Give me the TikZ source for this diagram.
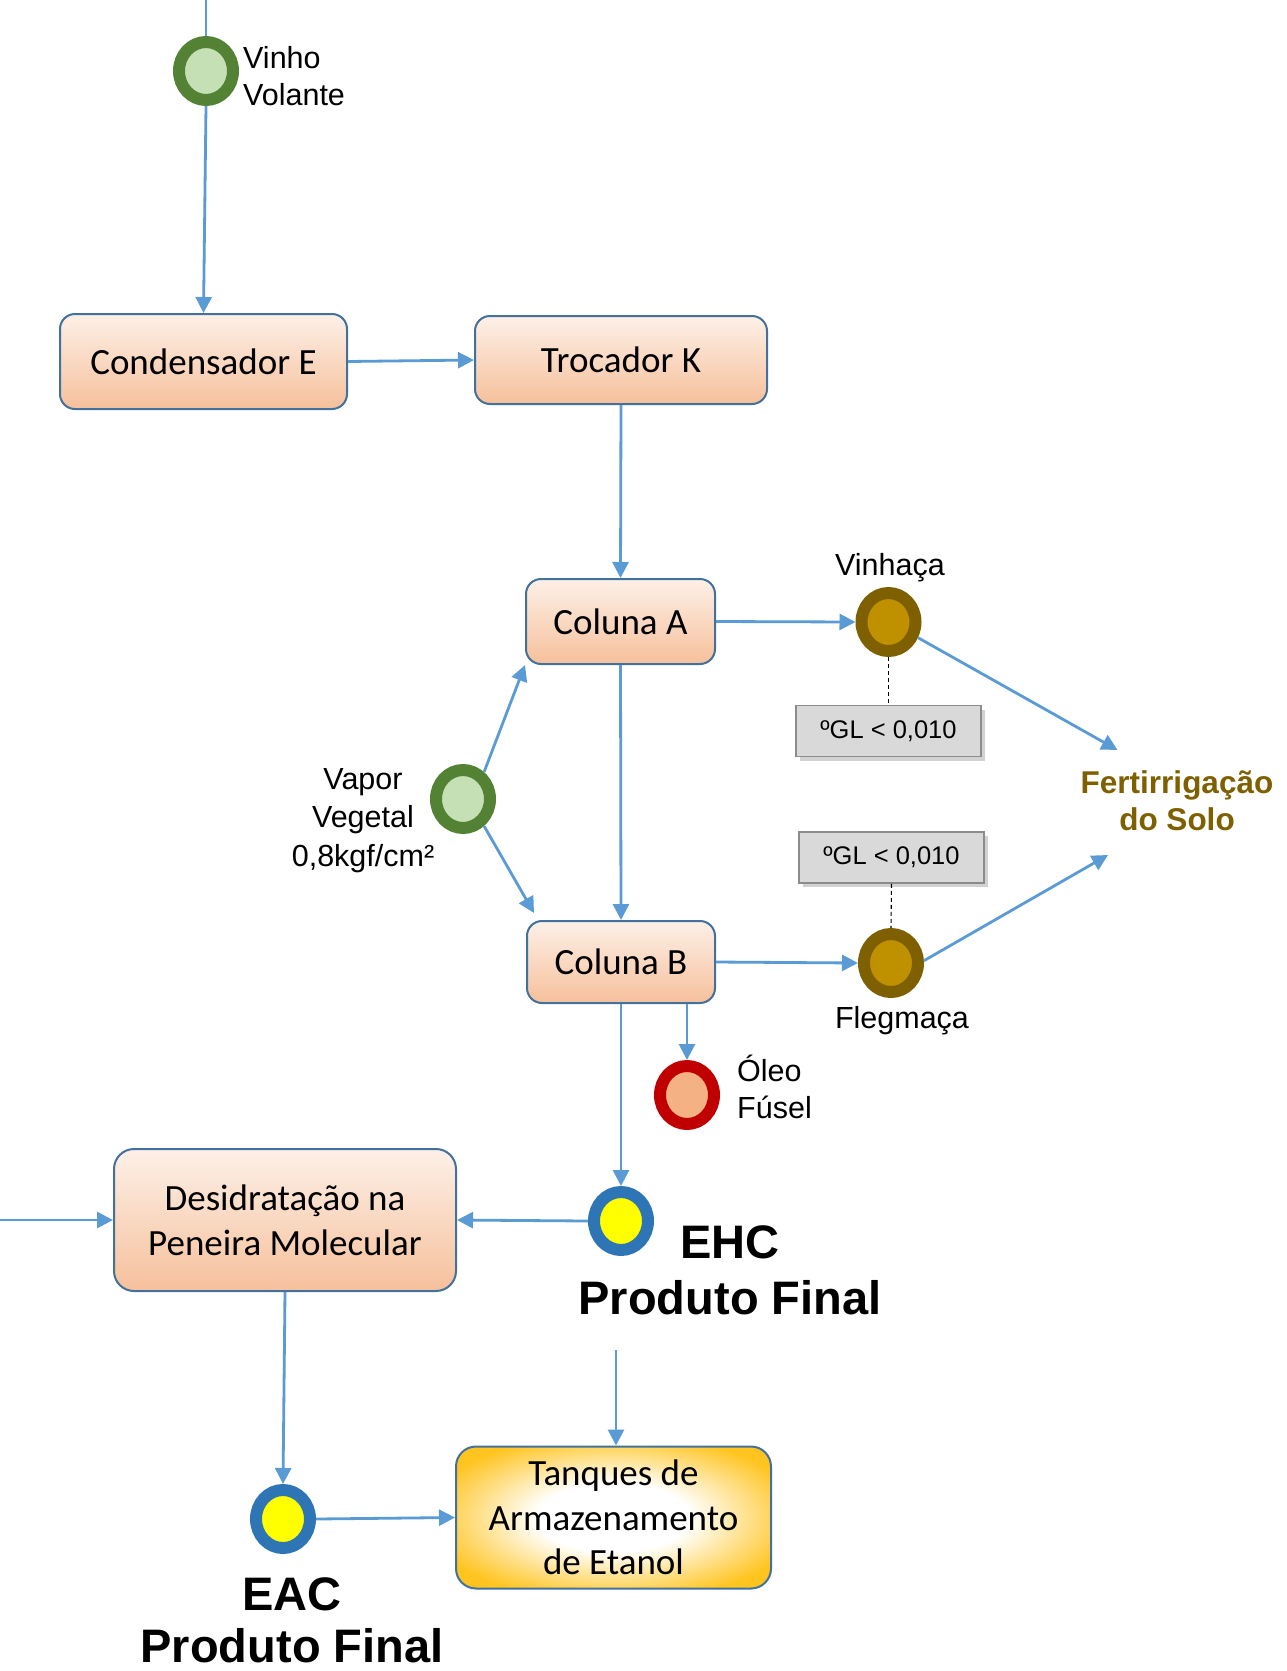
\documentclass[tikz,border=0pt]{standalone}
\usepackage{fontspec}
\setmainfont{Liberation Sans}
\newfontfamily\bodyfont{Carlito}
\usetikzlibrary{shapes.geometric,arrows.meta,shadows,calc}

\definecolor{flowblue}{HTML}{5B9BD5}
\definecolor{boxedge}{HTML}{41719C}
\definecolor{peachtop}{HTML}{FDF0E8}
\definecolor{peachbot}{HTML}{F6C09B}
\definecolor{tankgold}{HTML}{FFC41F}
\definecolor{greenring}{HTML}{548235}
\definecolor{greencore}{HTML}{C5E0B4}
\definecolor{brownring}{HTML}{7F6000}
\definecolor{browncore}{HTML}{BF9000}
\definecolor{redring}{HTML}{C00000}
\definecolor{redcore}{HTML}{F4B183}
\definecolor{bluering}{HTML}{2E75B6}
\definecolor{bluecore}{HTML}{FFFF00}
\definecolor{notefill}{HTML}{D9D9D9}
\definecolor{noteedge}{HTML}{8C8C8C}

% white centre fading to gold towards the edges of the tank box
\pgfdeclareradialshading{tankglow}{\pgfpoint{0bp}{0bp}}{color(0bp)=(white); color(12bp)=(white); color(30bp)=(tankgold); color(50bp)=(tankgold)}

\tikzset{
  unitbox/.style={draw=boxedge, line width=2pt, rounded corners=15pt,
    top color=peachtop, bottom color=peachbot, align=center, inner sep=0pt,
    font=\bodyfont\fontsize{37}{45}\selectfont},
  tankbox/.style={draw=boxedge, line width=2pt, rounded corners=20pt,
    shading=tankglow, align=center, inner sep=0pt,
    font=\bodyfont\fontsize{37}{44.5}\selectfont},
  port/.style 2 args={ellipse, draw=#1, fill=#2, line width=12pt,
    minimum width=54pt, minimum height=58pt, inner sep=0pt},
  notebox/.style={draw=noteedge, line width=1.5pt, fill=notefill, inner sep=0pt,
    minimum width=185pt, minimum height=51pt,
    font=\fontsize{25.5}{30}\selectfont,
    drop shadow={shadow xshift=4pt, shadow yshift=-4pt, opacity=0.35, fill=gray}},
  lbl/.style={inner sep=0pt, font=\fontsize{30.5}{37}\selectfont},
  biglbl/.style={inner sep=0pt, align=center, font=\bfseries\fontsize{47}{56}\selectfont},
  feed/.style={draw=flowblue, line width=2.8pt, -{Triangle[length=16pt,width=16pt]}},
  plainfeed/.style={draw=flowblue, line width=2.8pt},
  tick/.style={draw=black, line width=1.1pt, dash pattern=on 4pt off 3pt}
}

\begin{document}
\begin{tikzpicture}[x=1pt, y=-1pt]
\useasboundingbox (0,0) rectangle (1286,1671);
\fill[white] (0,0) rectangle (1286,1671);

% process units
\node[unitbox, minimum width=287pt, minimum height=95pt] (cond) at (203.5,361.5) {Condensador E};
\node[unitbox, minimum width=292pt, minimum height=88pt] (troc) at (621,360) {Trocador K};
\node[unitbox, minimum width=189pt, minimum height=85pt] (colA) at (620.5,621.5) {Coluna A};
\node[unitbox, minimum width=188pt, minimum height=82pt] (colB) at (621,962) {Coluna B};
\node[unitbox, rounded corners=20pt, minimum width=342pt, minimum height=142pt] (desid) at (285,1220) {Desidratação na\\Peneira Molecular};
\node[tankbox, minimum width=315pt, minimum height=142pt] (tanq) at (613.5,1517.5) {Tanques de\\Armazenamento\\de Etanol};

% stream markers
\node[port={greenring}{greencore}] (vinho) at (206,71) {};
\node[port={greenring}{greencore}] (vapor) at (463,799) {};
\node[port={brownring}{browncore}] (vinh) at (888.5,622) {};
\node[port={brownring}{browncore}] (fleg) at (891,963) {};
\node[port={redring}{redcore}] (oleo) at (687,1095) {};
\node[port={bluering}{bluecore}] (ehc) at (621,1221) {};
\node[port={bluering}{bluecore}] (eac) at (283,1519) {};

% alcohol content notes
\node[notebox] (gl1) at (888.5,731) {ºGL < 0,010};
\node[notebox] (gl2) at (891.5,857.5) {ºGL < 0,010};

% labels (base anchor of a multi-line label sits on its last line)
\node[lbl, anchor=base west, align=left] (vvlab) at (243,105) {Vinho\\Volante};
\node[lbl, anchor=base] (vinhlab) at (890,575) {Vinhaça};
\node[lbl, anchor=base, align=center, font=\fontsize{30.5}{38.5}\selectfont] (vaplab) at (363,866) {Vapor\\Vegetal\\0,8kgf/cm²};
\node[lbl, anchor=base, align=center, text=brownring, font=\bfseries\fontsize{31.5}{37}\selectfont] (fertlab) at (1177,830) {Fertirrigação\\do Solo};
\node[lbl, anchor=base] (fleglab) at (902,1028) {Flegmaça};
\node[lbl, anchor=base west, align=left] (oleolab) at (737,1118) {Óleo\\Fúsel};
\node[biglbl, anchor=base] (ehclab) at (730,1314) {EHC\\Produto Final};
\node[biglbl, anchor=base, font=\bfseries\fontsize{47}{52}\selectfont] (eaclab) at (292,1662) {EAC\\Produto Final};

% free ends of streams
\coordinate (vintop) at (206,0);
\coordinate (fertin1) at (1117.5,750);
\coordinate (fertin2) at (1108,855);
\coordinate (leftin) at (0,1220);
\coordinate (ehcdown) at (616,1350);

% dashed leaders to the notes
\draw[tick] (vinh.south) -- (gl1.north);
\draw[tick] (gl2.south) -- (fleg.north);

% streams
\draw[plainfeed] (vintop) -- (vinho.north);
\draw[feed] (vinho.south) -- (cond.north);
\draw[feed] (cond.east) -- (troc.west);
\draw[feed] (troc.south) -- (colA.north);
\draw[feed] (colA.east) -- (vinh.west);
\draw[feed] (vinh.-28) -- (fertin1);
\draw[feed] (vapor.52) -- (colA.south west);
\draw[feed] (vapor.-52) -- ($(colB.north west)+(8,-7)$);
\draw[feed] (colA.south) -- (colB.north);
\draw[feed] (colB.east) -- (fleg.west);
\draw[feed] (fleg.4) -- (fertin2);
\draw[feed] (oleo |- colB.south) -- (oleo.north);
\draw[feed] (colB.south) -- (ehc.north);
\draw[feed] (ehc.west) -- (desid.east);
\draw[feed] (leftin) -- (desid.west);
\draw[feed] (desid.south) -- (eac.north);
\draw[feed] (eac.east) -- (tanq.west);
\draw[feed] (ehcdown) -- (ehcdown |- tanq.north);
\end{tikzpicture}
\end{document}
